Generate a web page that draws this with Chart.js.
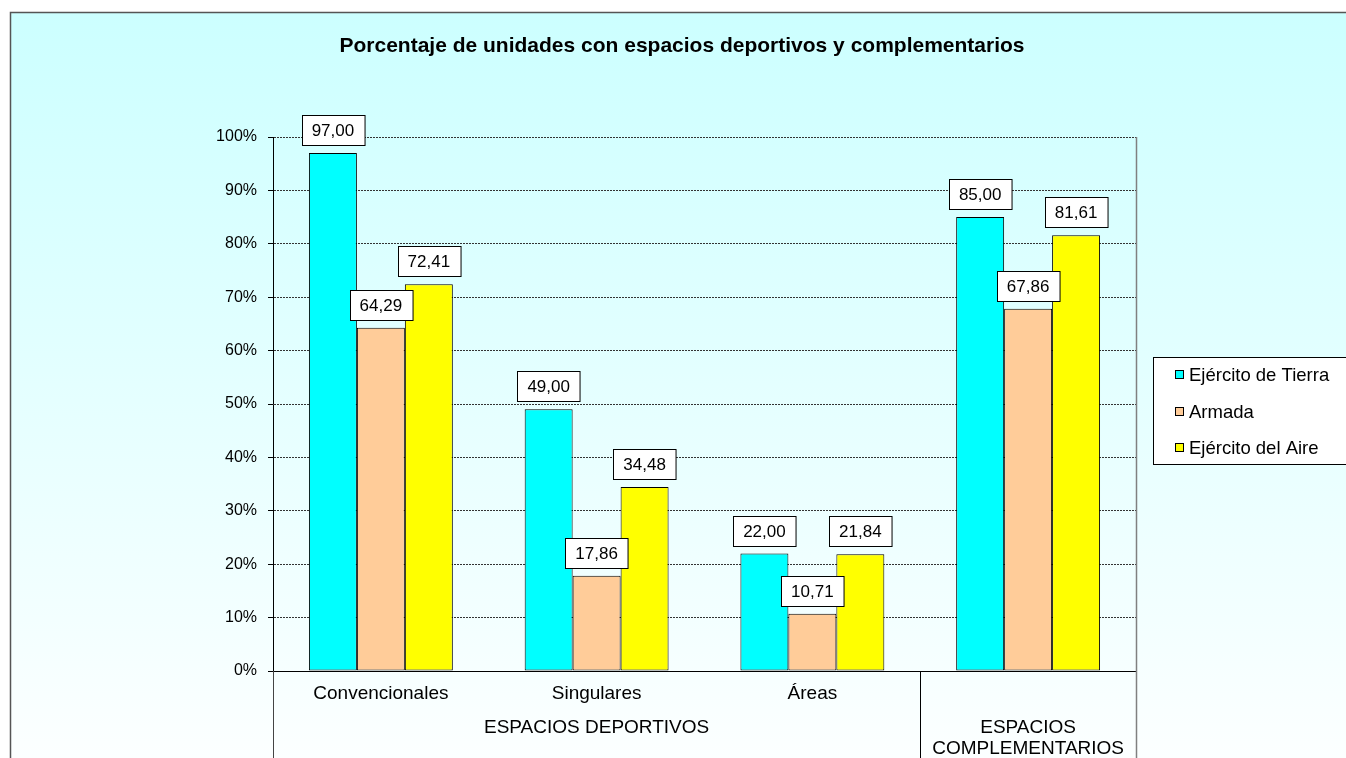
<!DOCTYPE html>
<html>
<head>
<meta charset="utf-8">
<script src="https://cdn.jsdelivr.net/npm/chart.js@4/dist/chart.umd.min.js"></script>
<style>
  html, body { margin: 0; padding: 0; background: #fff; }
  #wrap { width: 1346px; height: 758px; }
</style>
</head>
<body>
<div id="wrap"><canvas id="chart" width="1346" height="758"></canvas></div>
<script>
const title = 'Porcentaje de unidades con espacios deportivos y complementarios';
const categories = ['Convencionales', 'Singulares', 'Áreas', ''];
const groups = [
  { label: ['ESPACIOS DEPORTIVOS'], from: 0, to: 2 },
  { label: ['ESPACIOS', 'COMPLEMENTARIOS'], from: 3, to: 3 }
];
const seriesNames = ['Ejército de Tierra', 'Armada', 'Ejército del Aire'];
const tierra = [97.00, 49.00, 22.00, 85.00];
const armada = [64.29, 17.86, 10.71, 67.86];
const aire = [72.41, 34.48, 21.84, 81.61];
const colors = ['#00FFFF', '#FFCC99', '#FFFF00'];

const FONT = 'Arial, "Liberation Sans", sans-serif';

const decoPlugin = {
  id: 'deco',
  beforeDraw(chart) {
    const c = chart.ctx;
    c.save();
    c.fillStyle = '#fff';
    c.fillRect(0, 0, chart.width, chart.height);
    const g = c.createLinearGradient(0, 12, 0, chart.height);
    g.addColorStop(0, '#CCFFFF');
    g.addColorStop(1, '#FCFFFF');
    c.fillStyle = g;
    c.fillRect(10, 12, chart.width - 10, chart.height - 12);
    c.strokeStyle = '#555';
    c.lineWidth = 1.5;
    c.beginPath();
    c.moveTo(10.5, chart.height);
    c.lineTo(10.5, 12.5);
    c.lineTo(chart.width, 12.5);
    c.stroke();
    // title
    c.fillStyle = '#000';
    c.font = 'bold 21px ' + FONT;
    c.textAlign = 'center';
    c.textBaseline = 'middle';
    c.fillText(title, 682, 46);
    c.restore();
  },
  afterDatasetsDraw(chart) {
    const c = chart.ctx;
    c.save();
    c.font = '17px ' + FONT;
    c.textAlign = 'center';
    c.textBaseline = 'middle';
    chart.data.datasets.forEach((ds, di) => {
      chart.getDatasetMeta(di).data.forEach((bar, i) => {
        const txt = ds.data[i].toFixed(2).replace('.', ',');
        const w = c.measureText(txt).width + 20;
        const h = 30;
        const x = Math.round(bar.x - w / 2) + 0.5;
        const y = Math.round(bar.y - 8 - h) + 0.5;
        c.fillStyle = '#fff';
        c.fillRect(x, y, w, h);
        c.strokeStyle = '#000';
        c.lineWidth = 1;
        c.strokeRect(x, y, w, h);
        c.fillStyle = '#000';
        c.fillText(txt, bar.x, y + h / 2 + 1);
      });
    });
    c.restore();
  },
  afterDraw(chart) {
    const c = chart.ctx;
    const xs = chart.scales.x;
    const a = chart.chartArea;
    c.save();
    // category labels
    c.fillStyle = '#000';
    c.font = '19px ' + FONT;
    c.textAlign = 'center';
    c.textBaseline = 'middle';
    categories.forEach((lab, i) => {
      if (lab) c.fillText(lab, xs.getPixelForValue(i), 694);
    });
    // group labels and separators
    const step = (a.right - a.left) / categories.length;
    groups.forEach(gr => {
      const x0 = a.left + gr.from * step;
      const x1 = a.left + (gr.to + 1) * step;
      const cx = (x0 + x1) / 2;
      if (gr.label.length === 1) {
        c.fillText(gr.label[0], cx, 728);
      } else {
        gr.label.forEach((l, k) => c.fillText(l, cx, 728 + k * 21));
      }
    });
    c.lineWidth = 1;
    c.strokeStyle = '#000';
    const sep = Math.round(a.left + 3 * step) + 0.5;
    c.beginPath();
    c.moveTo(sep, a.bottom);
    c.lineTo(sep, chart.height);
    c.stroke();
    c.strokeStyle = '#444';
    c.beginPath();
    c.moveTo(Math.round(a.left) + 0.5, a.bottom);
    c.lineTo(Math.round(a.left) + 0.5, chart.height);
    c.stroke();
    c.strokeStyle = '#808080';
    c.lineWidth = 1.5;
    c.beginPath();
    c.moveTo(Math.round(a.right) + 0.5, a.top);
    c.lineTo(Math.round(a.right) + 0.5, chart.height);
    c.stroke();
    // legend
    c.fillStyle = '#fff';
    c.fillRect(1153.5, 357.5, 200, 107);
    c.strokeStyle = '#000';
    c.lineWidth = 1;
    c.strokeRect(1153.5, 357.5, 200, 107);
    c.textAlign = 'left';
    c.font = '18.5px ' + FONT;
    const ly = [375, 412, 448];
    seriesNames.forEach((n, i) => {
      c.fillStyle = colors[i];
      c.fillRect(1175.5, ly[i] - 4.5, 8, 8);
      c.strokeStyle = '#000';
      c.strokeRect(1175.5, ly[i] - 4.5, 8, 8);
      c.fillStyle = '#000';
      c.fillText(n, 1189, ly[i] + 1);
    });
    c.restore();
  }
};

new Chart(document.getElementById('chart'), {
  type: 'bar',
  data: {
    labels: categories,
    datasets: [
      { label: seriesNames[0], data: tierra, backgroundColor: colors[0] },
      { label: seriesNames[1], data: armada, backgroundColor: colors[1] },
      { label: seriesNames[2], data: aire, backgroundColor: colors[2] }
    ].map(d => Object.assign(d, {
      borderColor: '#000',
      borderWidth: 1,
      borderSkipped: false,
      categoryPercentage: 0.667,
      barPercentage: 1
    }))
  },
  options: {
    responsive: false,
    animation: false,
    layout: { padding: { top: 137, right: 210, left: 0, bottom: 0 } },
    plugins: {
      legend: { display: false },
      title: { display: false },
      tooltip: { enabled: false }
    },
    scales: {
      x: {
        afterFit: s => { s.height = 87; },
        ticks: { display: false },
        grid: { display: false },
        border: { display: true, color: '#000', width: 1 }
      },
      y: {
        min: 0,
        max: 100,
        afterFit: s => { s.width = 273; },
        ticks: {
          stepSize: 10,
          color: '#000',
          padding: 11,
          font: { family: FONT, size: 16 },
          callback: v => v + '%'
        },
        grid: {
          color: '#333',
          tickColor: '#000',
          tickLength: 5,
          tickBorderDash: [],
          drawOnChartArea: true
        },
        border: { display: true, color: '#000', width: 1, dash: [2, 1] }
      }
    }
  },
  plugins: [decoPlugin]
});
</script>
</body>
</html>
